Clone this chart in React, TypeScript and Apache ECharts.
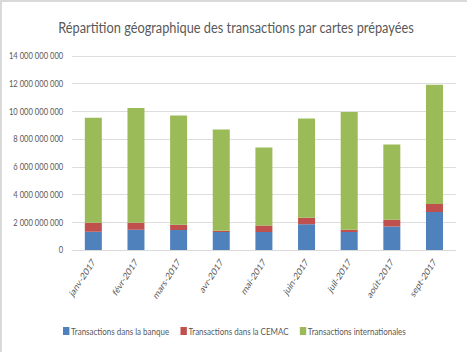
import React, { useEffect, useRef } from "react";
import * as echarts from "echarts";

const months = ["janv-2017", "févr-2017", "mars-2017", "avr-2017", "mai-2017", "juin-2017", "juil-2017", "août-2017", "sept-2017"];
const banque = [1.32e9, 1.46e9, 1.44e9, 1.30e9, 1.30e9, 1.85e9, 1.30e9, 1.70e9, 2.75e9];
const cemac = [0.64e9, 0.50e9, 0.38e9, 0.09e9, 0.47e9, 0.47e9, 0.16e9, 0.48e9, 0.57e9];
const internationales = [7.58e9, 8.29e9, 7.88e9, 7.31e9, 5.62e9, 7.17e9, 8.50e9, 5.43e9, 8.60e9];
const seriesNames = ["Transactions dans la banque", "Transactions dans la CEMAC", "Transactions internationales"];
const colors = ["#4F81BD", "#C0504D", "#9BBB59"];

const FONT = "Lato, sans-serif";
const S = 0.8; // horizontal compression of the original picture
const W = 465 / S;

function fmt(v: number): string {
  return String(Math.round(v)).replace(/\B(?=(\d{3})+(?!\d))/g, " ");
}

export default function App() {
  const ref = useRef<HTMLDivElement>(null);
  useEffect(() => {
    document.body.style.margin = "0";
    const chart = echarts.init(ref.current!, undefined, { renderer: "svg" });
    const data = [banque, cemac, internationales];
    chart.setOption({
      animation: false,
      backgroundColor: "#ffffff",
      title: {
        text: "Répartition géographique des transactions par cartes prépayées",
        left: 230 / S,
        textAlign: "center",
        top: 12,
        textStyle: { fontFamily: FONT, fontSize: 16, fontWeight: "normal", color: "#595959" },
      },
      grid: { left: 70 / S, right: 11 / S, top: 54, bottom: 102 },
      legend: {
        bottom: 11,
        left: 57 / S,
        itemWidth: 8,
        itemHeight: 8,
        itemGap: 14,
        icon: "rect",
        textStyle: { fontFamily: FONT, fontSize: 10, color: "#595959", padding: [0, 0, 0, -3] },
        data: seriesNames,
      },
      xAxis: {
        type: "category",
        data: months,
        axisLine: { lineStyle: { color: "#d9d9d9" } },
        axisTick: { show: false },
        axisLabel: { rotate: 51, fontFamily: FONT, fontSize: 10, color: "#595959", margin: 10, interval: 0 },
      },
      yAxis: {
        type: "value",
        min: 0,
        max: 14e9,
        interval: 2e9,
        axisLine: { show: false },
        axisTick: { show: false },
        splitLine: { lineStyle: { color: "#d9d9d9" } },
        axisLabel: { fontFamily: FONT, fontSize: 9.5, color: "#595959", margin: 11, formatter: (v: number) => fmt(v) },
      },
      series: seriesNames.map((name, i) => ({
        name,
        type: "bar",
        stack: "total",
        barWidth: 17 / S,
        itemStyle: { color: colors[i] },
        data: data[i],
      })),
    });
    return () => chart.dispose();
  }, []);
  return (
    <div style={{ position: "absolute", left: 0, top: 0, width: 467, height: 352, overflow: "hidden", boxSizing: "border-box", borderTop: "2px solid #d9d9d9", borderLeft: "2px solid #d9d9d9" }}>
      <div
        ref={ref}
        style={{ width: W, height: 350, transform: `scaleX(${S})`, transformOrigin: "0 0" }}
      />
    </div>
  );
}
